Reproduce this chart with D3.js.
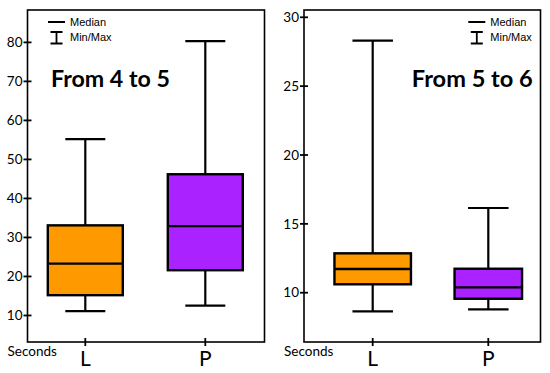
<!DOCTYPE html>
<html>
<head>
<meta charset="utf-8">
<script src="https://cdn.jsdelivr.net/npm/d3@7"></script>
<style>
  body { margin:0; background:#fff; }
  text { font-family: Lato, "Liberation Sans", sans-serif; }
  text.leg { font-family: "Liberation Sans", Arial, sans-serif; }
</style>
</head>
<body>
<svg id="chart" width="550" height="373"></svg>
<script>
// groups on the x axis
var categories = ["L", "P"];
var colors = ["#ff9900", "#aa22ff"];

// box stats per panel: [min, q1, median, q3, max]
var stats45 = [[11.1, 15.2, 23.3, 33.1, 55.2], [12.5, 21.6, 32.9, 46.2, 80.3]];
var stats56 = [[8.65, 10.61, 11.72, 12.86, 28.3], [8.79, 9.56, 10.39, 11.74, 16.15]];

var ticks45 = [10, 20, 30, 40, 50, 60, 70, 80];
var ticks56 = [10, 15, 20, 25, 30];

var titles = ["From 4 to 5", "From 5 to 6"];

var svg = d3.select("#chart");

// panel layouts
var panels = [
  { left: 27.5, right: 264.5, top: 10, bottom: 342, domain: [3.2, 88.3],
    xr: [85.3, 205.3], boxW: [75, 75], capW: 40, data: stats45, ticks: ticks45,
    title: titles[0], titleX: 51, titleAnchor: "start", titleW: 119,
    legX: 48 },
  { left: 304, right: 540.5, top: 10, bottom: 342, domain: [6.42, 30.53],
    xr: [372.7, 488.3], boxW: [76.5, 67.5], capW: 40.5, data: stats56, ticks: ticks56,
    title: titles[1], titleX: 532.7, titleAnchor: "end", titleW: 121,
    legX: 468.3 }
];

panels.forEach(function(p) {
  var g = svg.append("g");
  var y = d3.scaleLinear().domain(p.domain).range([p.bottom, p.top]);
  var x = d3.scalePoint().domain(categories).range(p.xr);

  // frame
  g.append("rect")
    .attr("x", p.left).attr("y", p.top)
    .attr("width", p.right - p.left).attr("height", p.bottom - p.top)
    .attr("fill", "none").attr("stroke", "#000").attr("stroke-width", 1.6);

  // y ticks, crossing the frame
  var yt = g.selectAll(".yt").data(p.ticks).enter().append("g")
    .attr("transform", function(d){ return "translate(" + p.left + "," + y(d) + ")"; });
  yt.append("line").attr("x1", -4).attr("x2", 4)
    .attr("stroke", "#000").attr("stroke-width", 1.8);
  yt.append("text").attr("x", -5).attr("dy", "0.35em")
    .attr("text-anchor", "end").attr("font-size", 13.5)
    .text(function(d){ return d; });

  // x ticks
  var xt = g.selectAll(".xt").data(categories).enter().append("g")
    .attr("transform", function(d){ return "translate(" + x(d) + "," + p.bottom + ")"; });
  xt.append("line").attr("y1", -4).attr("y2", 4)
    .attr("stroke", "#000").attr("stroke-width", 1.8);
  xt.append("text").attr("y", 24).attr("text-anchor", "middle")
    .attr("font-size", 21).text(function(d){ return d; });

  g.append("text").attr("x", p.left - 20).attr("y", p.bottom + 14)
    .attr("font-size", 13.5).text("Seconds");

  // boxes
  p.data.forEach(function(s, i) {
    var cx = x(categories[i]), bw = p.boxW[i];
    g.append("line").attr("x1", cx).attr("x2", cx)
      .attr("y1", y(s[0])).attr("y2", y(s[4]))
      .attr("stroke", "#000").attr("stroke-width", 2.2);
    [s[0], s[4]].forEach(function(v) {
      g.append("line").attr("x1", cx - p.capW / 2).attr("x2", cx + p.capW / 2)
        .attr("y1", y(v)).attr("y2", y(v))
        .attr("stroke", "#000").attr("stroke-width", 2.2);
    });
    g.append("rect").attr("x", cx - bw / 2).attr("y", y(s[3]))
      .attr("width", bw).attr("height", y(s[1]) - y(s[3]))
      .attr("fill", colors[i]).attr("stroke", "#000").attr("stroke-width", 2.4);
    g.append("line").attr("x1", cx - bw / 2).attr("x2", cx + bw / 2)
      .attr("y1", y(s[2])).attr("y2", y(s[2]))
      .attr("stroke", "#000").attr("stroke-width", 2.4);
  });

  // legend
  var lg = g.append("g").attr("transform", "translate(" + p.legX + ",0)");
  lg.append("line").attr("x1", 0).attr("x2", 17).attr("y1", 22).attr("y2", 22)
    .attr("stroke", "#000").attr("stroke-width", 2);
  lg.append("text").attr("class", "leg").attr("x", 22).attr("y", 22).attr("dy", "0.35em")
    .attr("font-size", 11).text("Median");
  lg.append("path").attr("d", "M2.5,32H14.5M8.5,32V43.5M2.5,43.5H14.5")
    .attr("fill", "none").attr("stroke", "#000").attr("stroke-width", 1.8);
  lg.append("text").attr("class", "leg").attr("x", 22).attr("y", 37.5).attr("dy", "0.35em")
    .attr("font-size", 11).text("Min/Max");

  // title, sized to the width in the picture
  var t = g.append("text").attr("x", p.titleX).attr("y", 87)
    .attr("text-anchor", p.titleAnchor).attr("font-weight", "bold")
    .attr("font-size", 20).text(p.title);
  var w = t.node().getComputedTextLength();
  t.attr("font-size", 20 * p.titleW / w);
});
</script>
</body>
</html>
